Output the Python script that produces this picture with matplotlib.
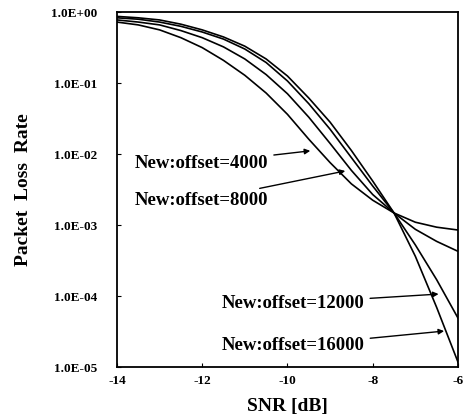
import matplotlib.pyplot as plt
import numpy as np
from matplotlib.ticker import FixedLocator, FixedFormatter

plt.rcParams['font.family'] = ['Liberation Serif', 'DejaVu Serif']

# values (log10 of packet loss rate)
snr = [-14, -13.5, -13, -12.5, -12, -11.5, -11, -10.5, -10, -9.5, -9, -8.5, -8, -7.5, -7, -6.5, -6]
log_4000 = [-0.14, -0.18, -0.25, -0.36, -0.50, -0.68, -0.89, -1.14, -1.44, -1.79, -2.12, -2.42, -2.65, -2.83, -2.96, -3.03, -3.07]
log_8000 = [-0.11, -0.14, -0.18, -0.26, -0.36, -0.49, -0.66, -0.88, -1.15, -1.48, -1.85, -2.23, -2.57, -2.83, -3.06, -3.23, -3.37]
log_12000 = [-0.08, -0.10, -0.14, -0.20, -0.28, -0.38, -0.52, -0.71, -0.97, -1.29, -1.65, -2.05, -2.45, -2.83, -3.28, -3.77, -4.31]
log_16000 = [-0.06, -0.08, -0.11, -0.17, -0.25, -0.35, -0.48, -0.66, -0.90, -1.21, -1.55, -1.95, -2.38, -2.83, -3.44, -4.16, -4.93]

yticks = [1e0, 1e-1, 1e-2, 1e-3, 1e-4, 1e-5]
ytick_labels = ['1.0E+00', '1.0E-01', '1.0E-02', '1.0E-03', '1.0E-04', '1.0E-05']
xticks = [-14, -12, -10, -8, -6]

fig = plt.figure(figsize=(4.64, 4.18), dpi=100)
ax = fig.add_axes([0.252, 0.122, 0.735, 0.849])

for vals in [log_4000, log_8000, log_12000, log_16000]:
    ax.plot(snr, 10 ** np.array(vals), color='black', lw=1.2)

ax.set_yscale('log')
ax.set_xlim(-14, -6)
ax.set_ylim(1e-5, 1.0)
ax.yaxis.set_major_locator(FixedLocator(yticks))
ax.yaxis.set_major_formatter(FixedFormatter(ytick_labels))
ax.yaxis.set_minor_locator(FixedLocator([]))
ax.set_xticks(xticks)
ax.set_xticklabels([str(t) for t in xticks])
ax.tick_params(direction='in', length=3, width=0.8, labelsize=9.5)
for lab in ax.get_xticklabels() + ax.get_yticklabels():
    lab.set_fontweight('bold')
ax.tick_params(axis='x', pad=6)
ax.tick_params(axis='y', pad=14)
for s in ax.spines.values():
    s.set_linewidth(1.3)

ax.set_xlabel('SNR [dB]', fontsize=14, fontweight='bold', labelpad=8)
ax.set_ylabel('Packet  Loss  Rate', fontsize=14, fontweight='bold', labelpad=14)

arrow = dict(arrowstyle='-|>', color='black', lw=1.0, mutation_scale=8)
ann = [('New:offset=4000', (-13.58, 10 ** -2.13), (-9.4, 10 ** -1.95)),
       ('New:offset=8000', (-13.58, 10 ** -2.65), (-8.58, 10 ** -2.23)),
       ('New:offset=12000', (-11.54, 10 ** -4.10), (-6.39, 10 ** -3.97)),
       ('New:offset=16000', (-11.54, 10 ** -4.70), (-6.26, 10 ** -4.49))]
for txt, xy_text, xy in ann:
    ax.annotate(txt, xy=xy, xytext=xy_text, ha='left', va='center',
                fontsize=13.5, fontweight='bold', arrowprops=arrow)

plt.savefig('out.png', dpi=100)
plt.close()
